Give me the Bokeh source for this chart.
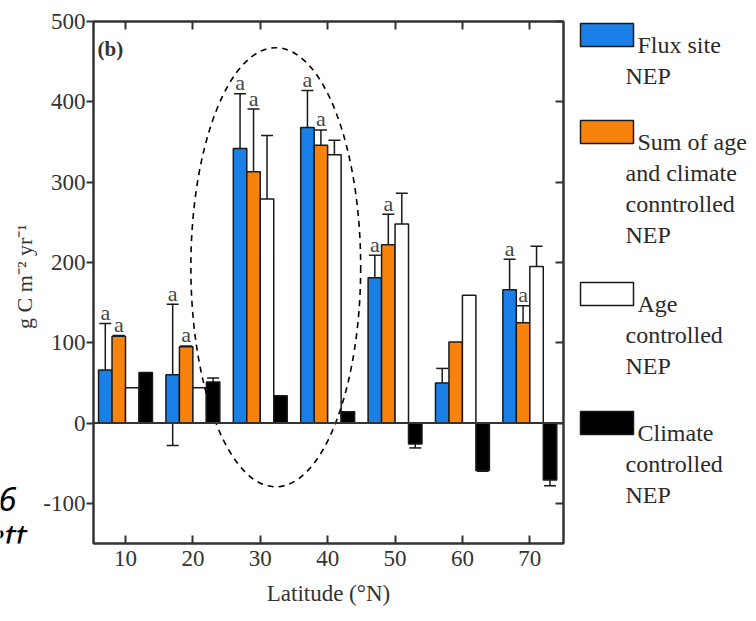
import math
from bokeh.plotting import figure
from bokeh.models import (Range1d, FixedTicker, LinearAxis, Span, Whisker, TeeHead,
                          ColumnDataSource, Label)
from bokeh.layouts import row
from bokeh.embed import file_html
from bokeh.resources import INLINE
from bokeh.core.properties import value

# NEP by latitude band (g C m-2 yr-1)
latitudes = [10, 20, 30, 40, 50, 60, 70]
flux_nep = [66, 60, 342, 368, 181, 50, 166]
flux_err = [58, 88, 68, 46, 28, 18, 38]
sum_nep = [108, 95, 313, 346, 222, 101, 125]
sum_err = [1, 1, 78, 19, 38, 0, 21]
age_nep = [44, 44, 279, 334, 248, 159, 195]
age_err = [0, 0, 79, 18, 38, 0, 25]
climate_nep = [63, 51, 34, 14, -26, -59, -71]
climate_err = [0, 5, 0, 0, 5, 1, 7]
flux_letters = ["a", "a", "a", "a", "a", "", "a"]
sum_letters = ["a", "a", "a", "a", "a", "", "a"]

y_ticks = [-100, 0, 100, 200, 300, 400, 500]
y_title = "g C m⁻² yr⁻¹"
x_title = "Latitude (°N)"

legend_entries = [
    ["Flux site", "NEP"],
    ["Sum of age", "and climate", "conntrolled", "NEP"],
    ["Age", "controlled", "NEP"],
    ["Climate", "controlled", "NEP"],
]

side_words = ["6", "ett"]

SERIF = "Liberation Serif"
INK = "#333333"
EDGE = "#1a1a1a"
H = 621
TOP, BOTTOM = 21, 78            # borders around the plotting frame
FRAME_TOP, FRAME_BOTTOM = TOP, H - BOTTOM
FRAME_LEFT = 93

series = [
    (flux_nep, flux_err, -3, "#1a7fe6"),
    (sum_nep, sum_err, -1, "#f7820c"),
    (age_nep, age_err, 1, "#ffffff"),
    (climate_nep, climate_err, 3, "#000000"),
]


def pixel_panel(width, x0):
    """Blank panel whose data coordinates are page pixels (y grows downward)."""
    f = figure(width=width, height=H, x_range=Range1d(x0, x0 + width),
               y_range=Range1d(FRAME_BOTTOM, FRAME_TOP),
               output_backend="svg", toolbar_location=None,
               min_border_left=0, min_border_right=0,
               min_border_top=TOP, min_border_bottom=BOTTOM,
               x_axis_location=None, y_axis_location=None)
    f.grid.visible = False
    f.outline_line_color = None
    return f


# ---- left strip: y-axis title and side text fragments
LEFT_W = 40
left = pixel_panel(LEFT_W, 0)
left.text(x=[24], y=[276], text=[y_title], angle=math.pi / 2, text_align="center",
          text_baseline="alphabetic", text_font=value(SERIF), text_font_size="22px",
          text_color=INK)
left.text(x=[16, 26], y=[498, 535], text=side_words, text_align="right",
          text_baseline="alphabetic", text_font=value("Noto Sans"), text_font_style="italic",
          text_font_size="33px", text_color="black")

# ---- main chart
MAIN_W = 563 + 8 - LEFT_W
p = figure(width=MAIN_W, height=H, x_range=Range1d(5.25, 75), y_range=Range1d(-150, 500),
           output_backend="svg", toolbar_location=None,
           min_border_left=FRAME_LEFT - LEFT_W, min_border_right=8,
           min_border_top=TOP, min_border_bottom=BOTTOM)
p.grid.visible = False
p.outline_line_color = INK
p.outline_line_width = 2

# bottom axis: ticks point inward
xa = p.xaxis[0]
xa.ticker = FixedTicker(ticks=latitudes)
xa.major_tick_in = 8
xa.major_tick_out = 0
xa.minor_tick_line_color = None
xa.axis_line_width = 2
xa.axis_line_color = INK
xa.major_tick_line_width = 2
xa.major_tick_line_color = INK
xa.major_label_text_font = SERIF
xa.major_label_text_font_size = "23px"
xa.major_label_text_color = INK
xa.major_label_standoff = 7
xa.axis_label = x_title
xa.axis_label_text_font = SERIF
xa.axis_label_text_font_size = "23px"
xa.axis_label_text_font_style = "normal"
xa.axis_label_text_color = INK
xa.axis_label_standoff = 12

# left axis: ticks point outward
ya = p.yaxis[0]
ya.ticker = FixedTicker(ticks=y_ticks)
ya.major_label_overrides = {t: str(t) for t in y_ticks}
ya.major_tick_in = 0
ya.major_tick_out = 7
ya.minor_tick_line_color = None
ya.axis_line_width = 2
ya.axis_line_color = INK
ya.major_tick_line_width = 2
ya.major_tick_line_color = INK
ya.major_label_text_font = SERIF
ya.major_label_text_font_size = "23px"
ya.major_label_text_color = INK
ya.major_label_standoff = 1

# mirrored axes on top and right with inward ticks only
for loc, ticks in (("above", latitudes), ("right", y_ticks)):
    ax = LinearAxis(ticker=FixedTicker(ticks=ticks), major_tick_in=8, major_tick_out=0,
                    minor_tick_line_color=None, axis_line_width=2, axis_line_color=INK,
                    major_tick_line_width=2, major_tick_line_color=INK,
                    major_label_overrides={t: "" for t in ticks}, major_label_standoff=0)
    p.add_layout(ax, loc)

# bars
for vals, errs, off, color in series:
    xs = [lat + off for lat in latitudes]
    p.vbar(x=xs, top=vals, bottom=0, width=2, fill_color=color,
           line_color=EDGE, line_width=1.5)

p.add_layout(Span(location=0, dimension="width", line_color=INK, line_width=2))

# error bars
for vals, errs, off, color in series:
    xs, up, lo = [], [], []
    for lat, v, e in zip(latitudes, vals, errs):
        if e > 0:
            xs.append(lat + off)
            up.append(v + e)
            lo.append(v - e)
    src = ColumnDataSource(dict(x=xs, upper=up, lower=lo))
    w = Whisker(source=src, base="x", upper="upper", lower="lower",
                line_color=EDGE, line_width=1.5,
                upper_head=TeeHead(size=12, line_color=EDGE, line_width=1.5),
                lower_head=TeeHead(size=12, line_color=EDGE, line_width=1.5))
    p.add_layout(w)

# significance letters above the flux-site and summed bars
for vals, errs, off, letters in ((flux_nep, flux_err, -3, flux_letters),
                                 (sum_nep, sum_err, -1, sum_letters)):
    xs, ys, ts = [], [], []
    for lat, v, e, t in zip(latitudes, vals, errs, letters):
        if t:
            xs.append(lat + off)
            ys.append(v + e)
            ts.append(t)
    p.text(x=xs, y=ys, text=ts, text_align="center", text_baseline="alphabetic",
           y_offset=-11, text_font=value(SERIF), text_font_size="22px", text_color="#444444")

# dashed ellipse around the 30-40 °N bands
p.ellipse(x=[32.3], y=[194], width=[25.2], height=[547], fill_color=None,
          line_color="black", line_width=1.6, line_dash="6 5")

p.add_layout(Label(x=5.85, y=466, text="(b)", text_font=SERIF, text_font_size="21px",
                   text_font_style="bold", text_color=INK, text_baseline="alphabetic"))

# ---- legend panel
LEG_X0 = LEFT_W + MAIN_W
lg = pixel_panel(756 - LEG_X0, LEG_X0)
patch_tops = [23, 120, 282, 411]
patch_colors = [s[3] for s in series]
lg.quad(left=[580] * 4, right=[633] * 4, top=patch_tops, bottom=[t + 23 for t in patch_tops],
        fill_color=patch_colors, line_color=EDGE, line_width=1.5)
tx, ty, tt = [], [], []
for top, lines in zip(patch_tops, legend_entries):
    for i, line in enumerate(lines):
        tx.append(637 if i == 0 else 625)
        ty.append(top + 21 + 31 * i)
        tt.append(line)
lg.text(x=tx, y=ty, text=tt, text_baseline="alphabetic", text_align="left",
        text_font=value(SERIF), text_font_size="24px", text_color="#2a2a2a")

layout = row(left, p, lg)
open("out.html", "w").write(file_html(layout, INLINE))
